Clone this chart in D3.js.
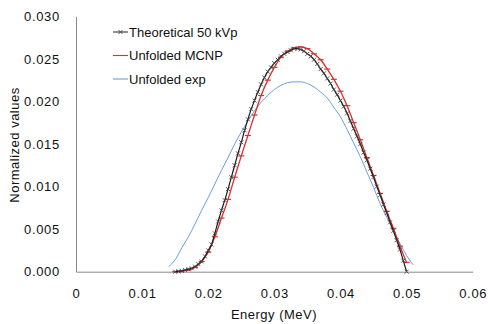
<!DOCTYPE html>
<html><head><meta charset="utf-8">
<script src="https://cdn.jsdelivr.net/npm/d3@7"></script>
<style>body{margin:0;background:#fff}svg{display:block}text{font-family:"Liberation Sans",Arial,sans-serif;fill:#111}</style>
</head><body>
<script>
const theoEnergy = d3.range(71).map(i => +(0.015 + i * 0.0005).toFixed(4));
const theoValues = [0,0.00003,0.0001,0.0002,0.0003,0.0004,0.0006,0.0009,0.0012,0.0018,
0.0025,0.0032,0.0045,0.0059,0.0072,0.0084,0.0097,0.0111,0.0125,0.0139,
0.0152,0.0166,0.0179,0.0191,0.0201,0.0211,0.0220,0.0228,0.0235,0.0240,
0.0245,0.0249,0.0253,0.0256,0.0258,0.0260,0.0262,0.0262,0.0261,0.0259,
0.0256,0.0253,0.0249,0.0244,0.0238,0.0233,0.0227,0.0221,0.0214,0.0208,
0.0201,0.0194,0.0186,0.0177,0.0168,0.0159,0.0150,0.0140,0.0131,0.0121,
0.0111,0.0100,0.0090,0.0079,0.0069,0.0058,0.0048,0.0037,0.0026,0.0013,0];
const mcnpEnergy = d3.range(36).map(i => +(0.015 + i * 0.001).toFixed(3));
const mcnpValues = [0,0.0001,0.0002,0.0005,0.0012,0.0023,0.0041,0.0063,0.0085,0.0111,
0.0136,0.0160,0.0184,0.0207,0.0225,0.0240,0.0252,0.0259,0.0263,0.0264,
0.0262,0.0256,0.0249,0.0238,0.0226,0.0212,0.0195,0.0175,0.0155,0.0134,
0.0113,0.0092,0.0071,0.0051,0.0030,0.0011];
const expEnergy = d3.range(38).map(i => +(0.014 + i * 0.001).toFixed(3));
const expValues = [0.0006,0.0014,0.0028,0.0041,0.0056,0.0072,0.0087,0.0103,0.0119,0.0134,
0.0150,0.0164,0.0177,0.0189,0.0199,0.0207,0.0214,0.0219,0.0222,0.0223,
0.0223,0.0221,0.0217,0.0211,0.0204,0.0193,0.0182,0.0167,0.0151,0.0135,
0.0117,0.0099,0.0080,0.0064,0.0048,0.0033,0.0019,0.0008];
const xTicks = [0,0.01,0.02,0.03,0.04,0.05,0.06];
const yTicks = [0,0.005,0.010,0.015,0.020,0.025,0.030];
const seriesNames = ["Theoretical 50 kVp","Unfolded MCNP","Unfolded exp"];

const W = 488, H = 324;
const svg = d3.select("body").append("svg").attr("width", W).attr("height", H);
const x = d3.scaleLinear().domain([0,0.06]).range([76,472.7]);
const y = d3.scaleLinear().domain([0,0.03]).range([271.7,16.3]);

// axes
const xAxis = svg.append("g").attr("transform",`translate(0,${y(0)})`)
  .call(d3.axisBottom(x).tickValues(xTicks).tickSize(0).tickPadding(17).tickFormat(d => d===0?"0":d3.format(".2f")(d)));
xAxis.select(".domain").attr("stroke","#888").attr("stroke-width",1);
xAxis.selectAll("text").attr("font-size",13).attr("letter-spacing","0.7px").attr("fill","#111");
const yAxis = svg.append("g").attr("transform",`translate(${x(0)},0)`)
  .call(d3.axisLeft(y).tickValues(yTicks).tickSize(0).tickPadding(16).tickFormat(d3.format(".3f")));
yAxis.select(".domain").attr("stroke","#888").attr("stroke-width",1);
yAxis.selectAll("text").attr("font-size",13).attr("letter-spacing","0.7px").attr("fill","#111");

svg.append("text").attr("x",274).attr("y",319).attr("text-anchor","middle").attr("font-size",13).attr("letter-spacing","0.5px").text("Energy (MeV)");
svg.append("text").attr("transform","translate(19,145) rotate(-90)").attr("text-anchor","middle").attr("font-size",13).attr("letter-spacing","0.5px").text("Normalized values");

const line = d3.line().x(d=>x(d[0])).y(d=>y(d[1])).curve(d3.curveMonotoneX);
const expData = d3.zip(expEnergy, expValues);
const mcnpData = d3.zip(mcnpEnergy, mcnpValues);
const theoData = d3.zip(theoEnergy, theoValues);

svg.append("path").datum(expData).attr("d",line).attr("fill","none").attr("stroke","#6b9fd9").attr("stroke-width",1);
svg.append("path").datum(mcnpData).attr("d",line).attr("fill","none").attr("stroke","#d93030").attr("stroke-width",1.3);
svg.selectAll(".mm").data(mcnpData).enter().append("line")
  .attr("x1",d=>x(d[0])-3).attr("x2",d=>x(d[0])+3).attr("y1",d=>y(d[1])).attr("y2",d=>y(d[1]))
  .attr("stroke","#d93030").attr("stroke-width",1.2);
svg.append("path").datum(theoData).attr("d",line).attr("fill","none").attr("stroke","#1a1a1a").attr("stroke-width",1.2);
svg.selectAll(".tm").data(theoData).enter().append("path")
  .attr("d",d=>{const cx=x(d[0]),cy=y(d[1]),s=2;return `M${cx-s},${cy-s}L${cx+s},${cy+s}M${cx-s},${cy+s}L${cx+s},${cy-s}`;})
  .attr("stroke","#444").attr("stroke-width",0.9).attr("fill","none");

// legend
const lg = svg.append("g");
const colors = ["#333","#d93030","#6b9fd9"];
seriesNames.forEach((n,i)=>{
  const yy = 32 + i*23.5;
  lg.append("line").attr("x1",113).attr("x2",128).attr("y1",yy).attr("y2",yy).attr("stroke",colors[i]).attr("stroke-width",1.1);
  if(i===0){lg.append("path").attr("d",`M118.5,${yy-2}L122.5,${yy+2}M118.5,${yy+2}L122.5,${yy-2}`).attr("stroke","#444").attr("stroke-width",0.9);}
  lg.append("text").attr("x",129).attr("y",yy+4.5).attr("font-size",13).text(n);
});
</script>
</body></html>
